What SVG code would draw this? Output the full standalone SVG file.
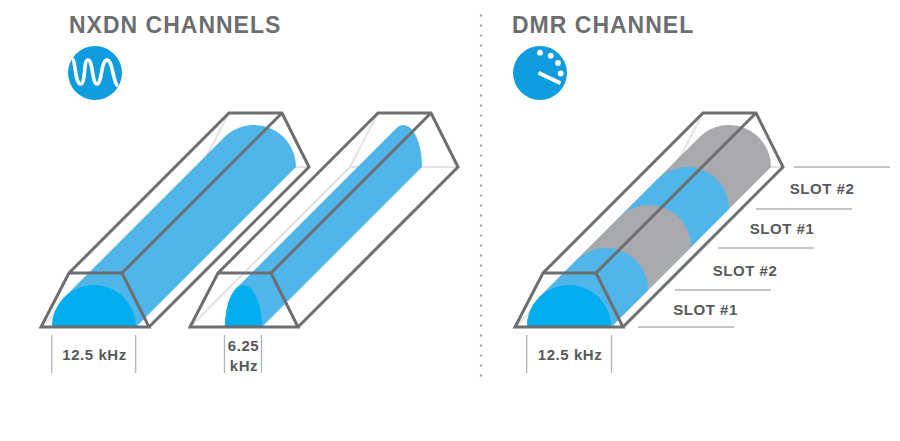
<svg xmlns="http://www.w3.org/2000/svg" width="900" height="441" viewBox="0 0 900 441">
<style>
.title{font-family:"Liberation Sans",Arial,sans-serif;font-weight:700;font-size:23px;fill:#6d6e71;letter-spacing:1px}
.lab{font-family:"Liberation Sans",Arial,sans-serif;font-weight:700;font-size:15px;fill:#58595b;text-anchor:middle;letter-spacing:.55px}
.hid{fill:none;stroke:#e2e3e4;stroke-width:2}
.box{fill:none;stroke:#6d6e71;stroke-width:3;stroke-linejoin:miter}
.dim{stroke:#b1b3b6;stroke-width:1.3;fill:none}
.slot{stroke:#b1b3b6;stroke-width:1.5;fill:none}
.blue{fill:#50b6e9}.grey{fill:#a7a9ac}.front{fill:#00aeef}
</style>
<defs>
<g id="hidden"><path class="hid" d="M0 54L160 -106M188 -160L160 -106H268"/></g>
<path id="shell" class="box" d="M0 54H108L81 0H28ZM28 0L188 -160H241L268 -106L108 54M81 0L241 -160"/>
</defs>
<rect width="900" height="441" fill="#fff"/>
<g id="divider"><path d="M481 15.500V376" stroke="#a7a9ac" stroke-width="2.600" stroke-linecap="round" stroke-dasharray="0 10" fill="none"/></g>

<g id="nxdn-title"><text class="title" x="69" y="33">NXDN CHANNELS</text></g>
<g id="nxdn-icon">
<circle cx="95" cy="73" r="27" fill="#0f9ddf"/>
<path d="M72 59C75.500 59 75 84 80.500 84C86 84 83 60 88 60C93 60 92 84 97 84C102 84 101 60 107 60C113 60 113 84 118 86" fill="none" stroke="#fff" stroke-width="3.600"/>
</g>
<g id="channel-12-5">
<use href="#hidden" x="41" y="273"/>
<path class="blue" d="M52 327A42 42 0 0 1 64.300 297.300L224.300 137.300A42 42 0 0 1 296 167L136 327Z"/>
<path class="front" d="M52 327A42 42 0 0 1 136 327Z"/>
<use href="#shell" x="41" y="273"/>
<path class="dim" d="M51.700 335V373M135.700 335V373"/>
<text class="lab" x="94.500" y="360">12.5 kHz</text>
</g>
<g id="channel-6-25">
<use href="#hidden" x="190" y="273"/>
<path class="blue" d="M225 327A18.500 42 0 0 1 236 288.600L396 128.600A18.500 42 0 0 1 422 167L262 327Z"/>
<path class="front" d="M225 327A18.500 42 0 0 1 262 327Z"/>
<use href="#shell" x="190" y="273"/>
<path class="dim" d="M224.500 335V373M261.500 335V373"/>
<text class="lab" x="243.500" y="351">6.25</text>
<text class="lab" x="244" y="371">kHz</text>
</g>

<g id="dmr-title"><text class="title" x="512" y="33">DMR CHANNEL</text></g>
<g id="dmr-icon">
<circle cx="540" cy="73" r="27" fill="#0f9ddf"/>
<g fill="#fff"><circle cx="540" cy="52.700" r="2.900"/><circle cx="550.700" cy="55.700" r="2.900"/><circle cx="558" cy="63" r="2.900"/><circle cx="560.700" cy="73.500" r="2.900"/></g>
<path d="M538.500 72.700L560.500 83.300" stroke="#fff" stroke-width="3.800" fill="none"/>
</g>
<g id="dmr-channel">
<use href="#hidden" x="515" y="273"/>
<path class="grey" d="M527 327A42 42 0 0 1 539.300 297.300L699.300 137.300A42 42 0 0 1 771 167L611 327Z"/>
<path class="blue" d="M527 327A42 42 0 0 1 539.300 297.300L657.300 179.300A42 42 0 0 1 729 209L611 327Z"/>
<path class="grey" d="M527 327A42 42 0 0 1 539.300 297.300L619.300 217.300A42 42 0 0 1 691 247L611 327Z"/>
<path class="blue" d="M527 327A42 42 0 0 1 539.300 297.300L576.300 260.300A42 42 0 0 1 648 290L611 327Z"/>
<path class="front" d="M527 327A42 42 0 0 1 611 327Z"/>
<use href="#shell" x="515" y="273"/>
<path class="dim" d="M526.700 335V373M611.500 335V373"/>
<text class="lab" x="570" y="360">12.5 kHz</text>
</g>
<g id="slots">
<path class="slot" d="M638 327H734M675 290H771M718 248H814M756 209H852M794 167H890"/>
<text class="lab" x="705.500" y="315">SLOT #1</text>
<text class="lab" x="745" y="276">SLOT #2</text>
<text class="lab" x="782" y="234">SLOT #1</text>
<text class="lab" x="822" y="194">SLOT #2</text>
</g>
</svg>
